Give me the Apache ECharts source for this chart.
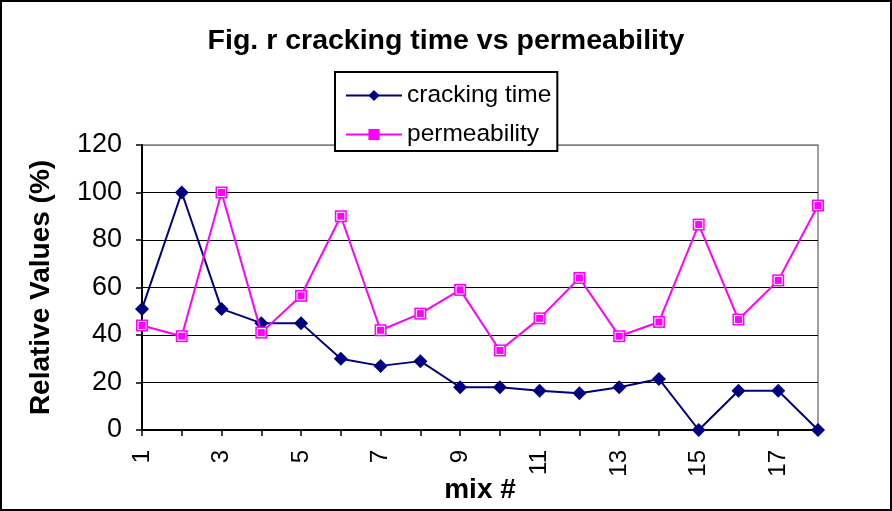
<!DOCTYPE html>
<html>
<head>
<meta charset="utf-8">
<script src="https://cdn.jsdelivr.net/npm/echarts@6/dist/echarts.min.js"></script>
<style>
html,body{margin:0;padding:0;background:#fff;}
#chart{width:892px;height:511px;}
</style>
</head>
<body>
<div id="chart"></div>
<script>
const categories = ['1','2','3','4','5','6','7','8','9','10','11','12','13','14','15','16','17','18'];
const crackingTime = [51, 100, 51, 45, 45, 30, 27, 29, 18, 18, 16.5, 15.5, 18, 21.5, 0, 16.5, 16.5, 0];
const permeability = [44, 39.5, 100, 41, 56.5, 90, 42, 49, 59, 33.5, 47, 64, 39.5, 45.5, 86.5, 46.5, 63, 94.5];
const yTicks = { min: 0, max: 120, interval: 20 };

const FONT = '"Liberation Sans", Arial, sans-serif';
const chart = echarts.init(document.getElementById('chart'));
chart.setOption({
  animation: false,
  backgroundColor: '#fff',
  textStyle: { fontFamily: FONT, color: '#000' },
  title: {
    text: 'Fig. r cracking time vs permeability',
    left: 'center', top: 22,
    textStyle: { fontFamily: FONT, fontSize: 28.5, fontWeight: 'bold', color: '#000' }
  },
  graphic: [{
    type: 'rect', silent: true, z: 100,
    shape: { x: 1, y: 1, width: 890, height: 509 },
    style: { fill: 'none', stroke: '#000', lineWidth: 2 }
  }],
  legend: {
    data: ['cracking time', 'permeability'],
    orient: 'vertical',
    left: 335, top: 72,
    backgroundColor: '#fff',
    borderColor: '#000', borderWidth: 2,
    padding: [11, 6, 4, 10],
    itemGap: 14,
    itemWidth: 56, itemHeight: 14,
    textStyle: { fontFamily: FONT, fontSize: 24.5, color: '#000' },
    z: 10
  },
  grid: {
    left: 142, right: 74, top: 145, bottom: 81,
    containLabel: false,
    outerBoundsMode: 'none',
    show: true, borderColor: '#808080', borderWidth: 1.5, backgroundColor: '#fff'
  },
  xAxis: {
    type: 'category',
    data: categories,
    boundaryGap: false,
    name: 'mix #',
    nameLocation: 'middle',
    nameGap: 46,
    nameMoveOverlap: false,
    nameTextStyle: { fontFamily: FONT, fontSize: 28, fontWeight: 'bold', color: '#000' },
    axisLine: { lineStyle: { color: '#000', width: 2 } },
    axisTick: { show: true, interval: 0, length: 6, lineStyle: { color: '#000', width: 1.5 } },
    axisLabel: { interval: 1, rotate: 90, margin: 20, fontFamily: FONT, fontSize: 24, color: '#000' },
    splitLine: { show: false }
  },
  yAxis: {
    type: 'value',
    min: yTicks.min, max: yTicks.max, interval: yTicks.interval,
    name: 'Relative Values (%)',
    nameLocation: 'middle',
    nameGap: 87,
    nameMoveOverlap: false,
    nameRotate: 90,
    nameTextStyle: { fontFamily: FONT, fontSize: 28, fontWeight: 'bold', color: '#000' },
    axisLine: { show: true, lineStyle: { color: '#000', width: 2 } },
    axisTick: { show: true, length: 6, lineStyle: { color: '#000', width: 1.5 } },
    axisLabel: { margin: 20, fontFamily: FONT, fontSize: 27, color: '#000' },
    splitLine: { show: true, lineStyle: { color: ['#000','#000','#000','#000','#000','#000','#808080'], width: 1.2 } }
  },
  series: [
    {
      name: 'cracking time', type: 'line', data: crackingTime,
      symbol: 'diamond', symbolSize: 14,
      lineStyle: { color: '#000080', width: 2 },
      itemStyle: { color: '#000080' },
      z: 3
    },
    {
      name: 'permeability', type: 'line', data: permeability,
      symbol: 'rect', symbolSize: 12,
      lineStyle: { color: '#FF00FF', width: 2 },
      itemStyle: { color: '#FF00FF' },
      z: 4
    },
    {
      name: 'permeability-inner', type: 'line', data: permeability,
      symbol: 'rect', symbolSize: 8,
      lineStyle: { width: 0, opacity: 0 },
      itemStyle: { color: '#FF00FF', borderColor: '#fff', borderWidth: 1 },
      z: 5, silent: true
    }
  ]
});
</script>
</body>
</html>
